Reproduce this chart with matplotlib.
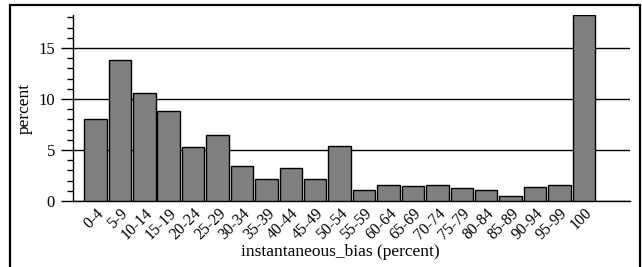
import matplotlib.pyplot as plt
from matplotlib.patches import Rectangle
from matplotlib.ticker import MultipleLocator

plt.rcParams['font.family'] = ['Liberation Serif', 'DejaVu Serif']

# Faixas de viés instantâneo e percentuais
faixas = ['0-4', '5-9', '10-14', '15-19', '20-24', '25-29', '30-34', '35-39',
          '40-44', '45-49', '50-54', '55-59', '60-64', '65-69', '70-74',
          '75-79', '80-84', '85-89', '90-94', '95-99', '100']
percentuais = [8.07, 13.86, 10.62, 8.86, 5.33, 6.5, 3.43, 2.16, 3.27, 2.16,
               5.36, 1.05, 1.6, 1.5, 1.6, 1.31, 1.11, 0.49, 1.34, 1.6, 18.2]

fig = plt.figure(figsize=(6.42, 2.67), dpi=100)
ax = fig.add_axes([73/642, 66/267, 557/642, 185.7/267])

x = range(len(faixas))
ax.bar(x, percentuais, width=0.92, color='#808080', edgecolor='black',
       linewidth=1, zorder=3)

ax.set_xlim(-0.92, 21.89)
ax.set_ylim(0, 18.2)
ax.set_yticks([0, 5, 10, 15])
ax.yaxis.set_minor_locator(MultipleLocator(1))
ax.grid(axis='y', color='black', linewidth=1, zorder=1)

ax.spines['top'].set_visible(False)
ax.spines['right'].set_visible(False)
ax.spines['left'].set_linewidth(1)
ax.spines['bottom'].set_linewidth(1)

ax.tick_params(axis='y', which='major', length=9, width=1, labelsize=12, pad=4)
ax.tick_params(axis='y', which='minor', length=4, width=1)
ax.set_xticks(list(x))
ax.set_xticklabels(faixas, rotation=45, ha='right', rotation_mode='anchor',
                   fontsize=11.3)
ax.tick_params(axis='x', length=0, pad=3)

ax.set_ylabel('percent', fontsize=12.5)
ax.yaxis.set_label_coords(-0.072, 0.5)
ax.set_xlabel('instantaneous_bias (percent)', fontsize=12.5)
ax.xaxis.set_label_coords((340 - 73) / 557, -0.23)

# moldura em volta da figura
fig.patches.append(Rectangle((10/642, -0.1), 630/642, 1.1 - 5/267,
                             transform=fig.transFigure, fill=False,
                             edgecolor='black', linewidth=1.6))

fig.savefig('out.png', dpi=100)
